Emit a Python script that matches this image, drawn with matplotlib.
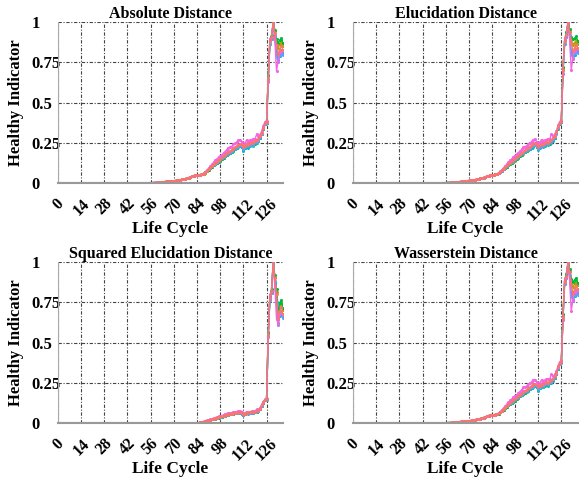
import numpy as np
import matplotlib
matplotlib.use("Agg")
import matplotlib.pyplot as plt

plt.rcParams['font.family'] = ['Liberation Serif', 'DejaVu Serif']
plt.rcParams['font.weight'] = 'bold'

# life cycle index 0..136
cycles = list(range(137))
xticks = [0, 14, 28, 42, 56, 70, 84, 98, 112, 126]
yticks = [0, 0.25, 0.5, 0.75, 1]
ytick_labels = ['0', '0.25', '0.5', '0.75', '1']

titles = ['Absolute Distance', 'Elucidation Distance',
          'Squared Elucidation Distance', 'Wasserstein Distance']

# base (top, salmon) curve of every panel
abs_hi = [0.0] * 46 + [
    0.001, 0.001, 0.001, 0.001, 0.001, 0.002, 0.002, 0.002, 0.002, 0.003,
    0.003, 0.003, 0.004, 0.004, 0.005, 0.006, 0.007, 0.008, 0.009, 0.010, 0.011, 0.012, 0.013, 0.014,
    0.015, 0.016, 0.018, 0.019, 0.021, 0.023, 0.025, 0.028, 0.031, 0.034, 0.038, 0.042, 0.046, 0.050,
    0.052, 0.051, 0.053, 0.056, 0.060, 0.068, 0.077, 0.088, 0.098, 0.108, 0.118, 0.126, 0.134, 0.142,
    0.150, 0.160, 0.168, 0.178, 0.186, 0.192, 0.200, 0.207, 0.215, 0.222, 0.232, 0.240, 0.245, 0.236,
    0.222, 0.232, 0.244, 0.238, 0.250, 0.258, 0.250, 0.262, 0.266, 0.276, 0.290, 0.312, 0.345, 0.372,
    0.380, 0.650, 0.880, 0.905, 1.000, 0.935, 0.860, 0.800, 0.830, 0.850, 0.830]

euc_hi = [0.0] * 46 + [
    0.001, 0.001, 0.001, 0.001, 0.002, 0.002, 0.002, 0.002, 0.003, 0.003,
    0.003, 0.004, 0.004, 0.005, 0.005, 0.006, 0.007, 0.008, 0.009, 0.010, 0.011, 0.012, 0.013, 0.015,
    0.016, 0.017, 0.018, 0.020, 0.022, 0.024, 0.026, 0.029, 0.032, 0.035, 0.039, 0.043, 0.046, 0.049,
    0.050, 0.052, 0.054, 0.057, 0.062, 0.070, 0.080, 0.090, 0.100, 0.110, 0.120, 0.128, 0.136, 0.145,
    0.152, 0.162, 0.170, 0.180, 0.188, 0.195, 0.203, 0.210, 0.218, 0.226, 0.235, 0.242, 0.248, 0.238,
    0.225, 0.235, 0.246, 0.240, 0.252, 0.258, 0.252, 0.262, 0.268, 0.278, 0.292, 0.315, 0.348, 0.375,
    0.385, 0.700, 0.880, 0.920, 1.000, 0.940, 0.870, 0.820, 0.840, 0.860, 0.840]

sq_hi = [0.0] * 85 + [
    0.002, 0.005, 0.008, 0.010, 0.013, 0.016, 0.019, 0.022, 0.025, 0.028, 0.031, 0.034, 0.037,
    0.040, 0.043, 0.046, 0.050, 0.053, 0.056, 0.058, 0.060, 0.062, 0.064, 0.066, 0.068, 0.069, 0.063,
    0.055, 0.060, 0.066, 0.064, 0.068, 0.070, 0.068, 0.072, 0.075, 0.080, 0.090, 0.110, 0.130, 0.145,
    0.150, 0.550, 0.780, 0.820, 1.000, 0.900, 0.800, 0.650, 0.700, 0.720, 0.680]

was_hi = [0.0] * 46 + [
    0.001, 0.001, 0.001, 0.001, 0.001, 0.002, 0.002, 0.002, 0.002, 0.003,
    0.003, 0.003, 0.004, 0.004, 0.005, 0.006, 0.007, 0.008, 0.009, 0.010, 0.011, 0.012, 0.013, 0.014,
    0.015, 0.016, 0.018, 0.020, 0.022, 0.024, 0.026, 0.029, 0.032, 0.035, 0.039, 0.043, 0.047, 0.051,
    0.053, 0.052, 0.054, 0.057, 0.061, 0.069, 0.078, 0.089, 0.099, 0.109, 0.119, 0.127, 0.135, 0.143,
    0.151, 0.160, 0.169, 0.178, 0.186, 0.193, 0.201, 0.208, 0.216, 0.223, 0.233, 0.241, 0.246, 0.237,
    0.223, 0.233, 0.245, 0.239, 0.251, 0.259, 0.251, 0.263, 0.267, 0.277, 0.291, 0.313, 0.346, 0.374,
    0.382, 0.660, 0.880, 0.910, 1.000, 0.938, 0.862, 0.805, 0.832, 0.852, 0.832]

# relative spread of the other runs against the base, cycles 88..136
spread_start = 88
spread_magenta = [0.02, 0.04, 0.05, 0.06, 0.06, 0.08, 0.10, 0.12, 0.10, 0.14, 0.12, 0.10, 0.12, 0.10,
                  0.12, 0.15, 0.12, 0.10, 0.13, 0.11, 0.10, 0.12, 0.10, 0.08, 0.06, 0.08, 0.10, 0.07,
                  0.06, 0.05, 0.10, 0.04, 0.14, 0.06, 0.04, 0.03, 0.03, 0.02, 0.02, -0.02, 0.02, 0.00,
                  0.00, -0.05, -0.19, -0.05, -0.02, -0.03, -0.01]
spread_cyan = [-0.01, -0.02, -0.03, -0.03, -0.04, -0.03, -0.04, -0.04, -0.05, -0.04, -0.05, -0.04, -0.05, -0.04,
               -0.05, -0.04, -0.05, -0.06, -0.05, -0.05, -0.06, -0.06, -0.05, -0.06, -0.09, -0.07, -0.06, -0.07,
               -0.08, -0.06, -0.07, -0.05, -0.06, -0.05, -0.04, -0.03, -0.02, -0.02, -0.02, 0.00, -0.02, -0.01,
               -0.02, -0.03, -0.06, -0.04, -0.05, -0.03, -0.02]
spread_green = [-0.02, -0.03, -0.04, -0.05, -0.05, -0.06, -0.06, -0.07, -0.06, -0.08, -0.07, -0.06, -0.07, -0.06,
                -0.06, -0.05, -0.06, -0.05, -0.06, -0.05, -0.06, -0.05, -0.04, -0.05, -0.06, -0.05, -0.04, -0.05,
                -0.06, -0.05, -0.04, -0.06, -0.05, -0.04, -0.03, -0.02, -0.03, -0.02, -0.01, 0.03, 0.01, 0.02,
                -0.01, 0.02, 0.04, 0.09, 0.07, 0.06, 0.05]
spread_olive = [-0.02, -0.03, -0.04, -0.05, -0.06, -0.06, -0.07, -0.08, -0.07, -0.08, -0.08, -0.07, -0.07, -0.06,
                -0.07, -0.06, -0.06, -0.05, -0.06, -0.05, -0.05, -0.04, -0.05, -0.04, -0.05, -0.04, -0.05, -0.04,
                -0.04, -0.05, -0.04, -0.05, -0.04, -0.03, -0.03, -0.02, -0.02, -0.01, -0.01, 0.02, 0.00, 0.01,
                -0.01, 0.01, 0.02, 0.05, 0.04, 0.03, 0.03]
spread_blue = [-0.01, -0.01, -0.02, -0.02, -0.02, -0.03, -0.02, -0.03, -0.02, -0.03, -0.02, -0.03, -0.02, -0.03,
               -0.02, -0.03, -0.02, -0.03, -0.02, -0.03, -0.03, -0.03, -0.04, -0.03, -0.05, -0.04, -0.03, -0.04,
               -0.04, -0.03, -0.04, -0.03, -0.03, -0.02, -0.02, -0.02, -0.01, -0.01, -0.01, -0.03, -0.02, -0.01,
               -0.01, -0.02, -0.08, -0.06, -0.04, -0.05, -0.04]

colors = ['#B79F00', '#00BA38', '#00BFC4', '#619CFF', '#F564E3', '#F8766D']
spreads = [spread_olive, spread_green, spread_cyan, spread_blue, spread_magenta, None]
bases = [abs_hi, euc_hi, sq_hi, was_hi]


def series_from(base, spread):
    y = np.array(base, dtype=float)
    if spread is not None:
        y[spread_start:] = y[spread_start:] * (1 + np.array(spread))
    return y


fig = plt.figure(figsize=(5.79, 4.82), dpi=100)
boxes = [[0.100, 0.620, 0.389, 0.334], [0.610, 0.620, 0.388, 0.334],
         [0.100, 0.122, 0.389, 0.334], [0.610, 0.122, 0.388, 0.334]]

for box, title, base in zip(boxes, titles, bases):
    ax = fig.add_axes(box)
    for c, s in zip(colors, spreads):
        ax.plot(cycles, series_from(base, s), color=c, linewidth=1.0,
                marker='o', markersize=2.2, markeredgewidth=0)
    ax.set_xlim(0, 136)
    ax.set_ylim(0, 1)
    ax.set_xticks(xticks)
    ax.set_xticklabels([str(t) for t in xticks], rotation=45, ha='center',
                       fontsize=11.5, fontweight='bold')
    ax.set_yticks(yticks)
    ax.set_yticklabels(ytick_labels, fontsize=12, fontweight='bold', ha='left')
    ax.tick_params(axis='x', length=0, pad=9)
    ax.tick_params(axis='y', length=0, pad=19)
    ax.grid(True, color='#444444', linestyle=(0, (3, 1.5, 1, 1.5)), linewidth=0.8)
    ax.set_axisbelow(True)
    for side in ['top', 'right']:
        ax.spines[side].set_visible(False)
    ax.spines['left'].set_color('#aaaaaa')
    ax.spines['bottom'].set_color('#999999')
    ax.spines['bottom'].set_linewidth(1.5)
    ax.set_title(title, fontsize=11.5, fontweight='bold', pad=2)
    ax.set_xlabel('Life Cycle', fontsize=12.5, fontweight='bold')
    ax.xaxis.set_label_coords(0.5, -0.235)
    ax.set_ylabel('Healthy Indicator', fontsize=12, fontweight='bold')
    ax.yaxis.set_label_coords(-0.152, 0.5)

plt.savefig('out.png', dpi=100)
